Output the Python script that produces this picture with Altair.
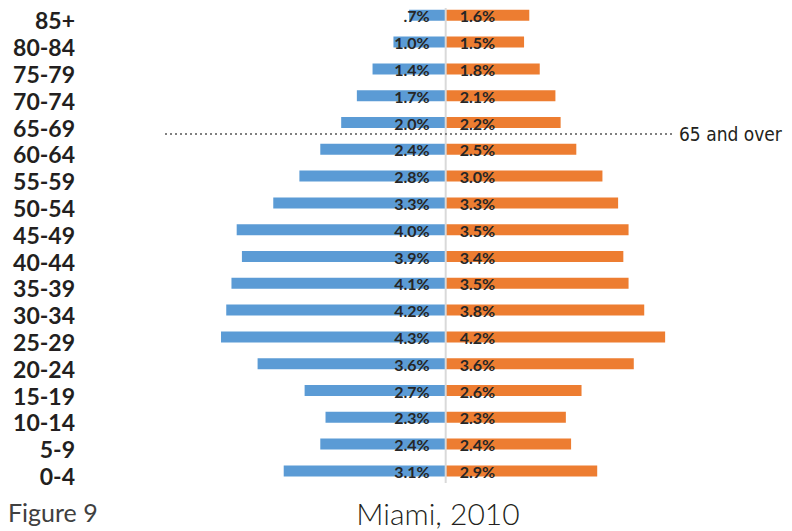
import altair as alt
import pandas as pd

ages = ["85+", "80-84", "75-79", "70-74", "65-69", "60-64", "55-59", "50-54", "45-49",
        "40-44", "35-39", "30-34", "25-29", "20-24", "15-19", "10-14", "5-9", "0-4"]
male = [0.7, 1.0, 1.4, 1.7, 2.0, 2.4, 2.8, 3.3, 4.0, 3.9, 4.1, 4.2, 4.3, 3.6, 2.7, 2.3, 2.4, 3.1]
female = [1.6, 1.5, 1.8, 2.1, 2.2, 2.5, 3.0, 3.3, 3.5, 3.4, 3.5, 3.8, 4.2, 3.6, 2.6, 2.3, 2.4, 2.9]


def fmt(v):
    s = f"{v:.1f}%"
    return s[1:] if s.startswith("0") else s


df = pd.DataFrame({
    "age": ages,
    "male": [-v for v in male],
    "female": female,
    "mlab": [fmt(v) for v in male],
    "flab": [fmt(v) for v in female],
})

W, H = 776, 523
xscale = alt.Scale(domain=[-8.377, 6.475], nice=False, zero=False)
yscale = alt.Scale(domain=ages, range=[-6.1, 476.3], paddingInner=0.59, paddingOuter=0.295)

base = alt.Chart(df)
X = alt.X("male:Q", scale=xscale, axis=None)
Y = alt.Y("age:N", scale=yscale, axis=None, sort=ages)

mbars = base.mark_bar(color="#5B9BD5").encode(x=X, x2=alt.datum(0), y=Y)
fbars = base.mark_bar(color="#ED7D31").encode(
    x=alt.X("female:Q", scale=xscale, axis=None), x2=alt.datum(0), y=Y)

center = alt.Chart(pd.DataFrame({"v": [0]})).mark_rule(color="#D9D9D9", strokeWidth=2).encode(
    x=alt.X("v:Q", scale=xscale, axis=None), y=alt.value(-4), y2=alt.value(475))

lab_font = dict(font="Lato", fontWeight="bold", fontSize=16, color="#262626", baseline="middle", dy=2)
mtext = base.mark_text(align="right", dx=-16, **lab_font).encode(
    x=alt.datum(0), y=Y, text="mlab:N")
ftext = base.mark_text(align="left", dx=14, **lab_font).encode(
    x=alt.datum(0), y=Y, text="flab:N")

agetext = base.mark_text(align="right", baseline="middle", font="Lato", fontWeight="bold",
                         fontSize=23, color="#231F20", dy=7).encode(
    x=alt.value(67), y=Y, text="age:N")

ann = pd.DataFrame({"t": ["65 and over"]})
dotted = alt.Chart(ann).mark_rule(color="#808080", strokeWidth=2, strokeDash=[2, 3]).encode(
    x=alt.value(157), x2=alt.value(667), y=alt.value(126))
anntext = alt.Chart(ann).mark_text(align="left", baseline="middle",
                                   font="'Liberation Sans Narrow', 'DejaVu Sans Condensed', Roboto",
                                   fontSize=19, color="#231F20").encode(
    x=alt.value(671), y=alt.value(127), text="t:N")

fig = alt.Chart(pd.DataFrame({"t": ["Figure 9"]})).mark_text(
    align="left", baseline="alphabetic", font="Lato", fontSize=25, color="#404040").encode(
    x=alt.value(0), y=alt.value(514), text="t:N")
title = alt.Chart(pd.DataFrame({"t": ["Miami, 2010"]})).mark_text(
    align="center", baseline="alphabetic", font="Lato", fontWeight=300, fontSize=30, color="#231F20").encode(
    x=alt.value(430), y=alt.value(517), text="t:N")

chart = alt.layer(mbars, fbars, center, mtext, ftext, agetext, dotted, anntext, fig, title).properties(
    width=W, height=H,
    autosize=alt.AutoSizeParams(type="none"),
    padding={"left": 0, "top": 0, "right": 0, "bottom": 0},
).configure_view(stroke=None)

chart.save("out.html", embed_options={"renderer": "svg", "actions": False})
